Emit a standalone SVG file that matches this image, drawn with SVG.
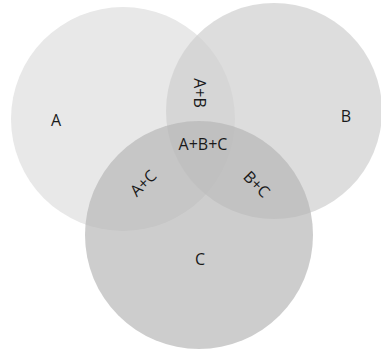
<svg xmlns="http://www.w3.org/2000/svg" width="381" height="351" viewBox="0 0 381 351">
<style>
text{font-family:"Open Sans","Liberation Sans",sans-serif;font-size:16px;fill:#1a1a1a;text-anchor:middle;dominant-baseline:central}
</style>
<rect width="381" height="351" fill="#ffffff"/>
<g id="circleA"><circle cx="123" cy="119" r="112" fill="#e8e8e8"/></g>
<g id="circleB"><circle cx="274" cy="111" r="108" fill="#cfcfcf" fill-opacity="0.7"/></g>
<g id="circleC"><circle cx="199" cy="235" r="114" fill="#b6b6b6" fill-opacity="0.68"/></g>
<g id="labels">
<text x="56" y="120">A</text>
<text x="346" y="116">B</text>
<text x="200" y="259">C</text>
<text x="203" y="144">A+B+C</text>
<text transform="translate(200,93) rotate(90)">A+B</text>
<text transform="translate(143,183) rotate(-45)">A+C</text>
<text transform="translate(257,184) rotate(45)">B+C</text>
</g>
</svg>
